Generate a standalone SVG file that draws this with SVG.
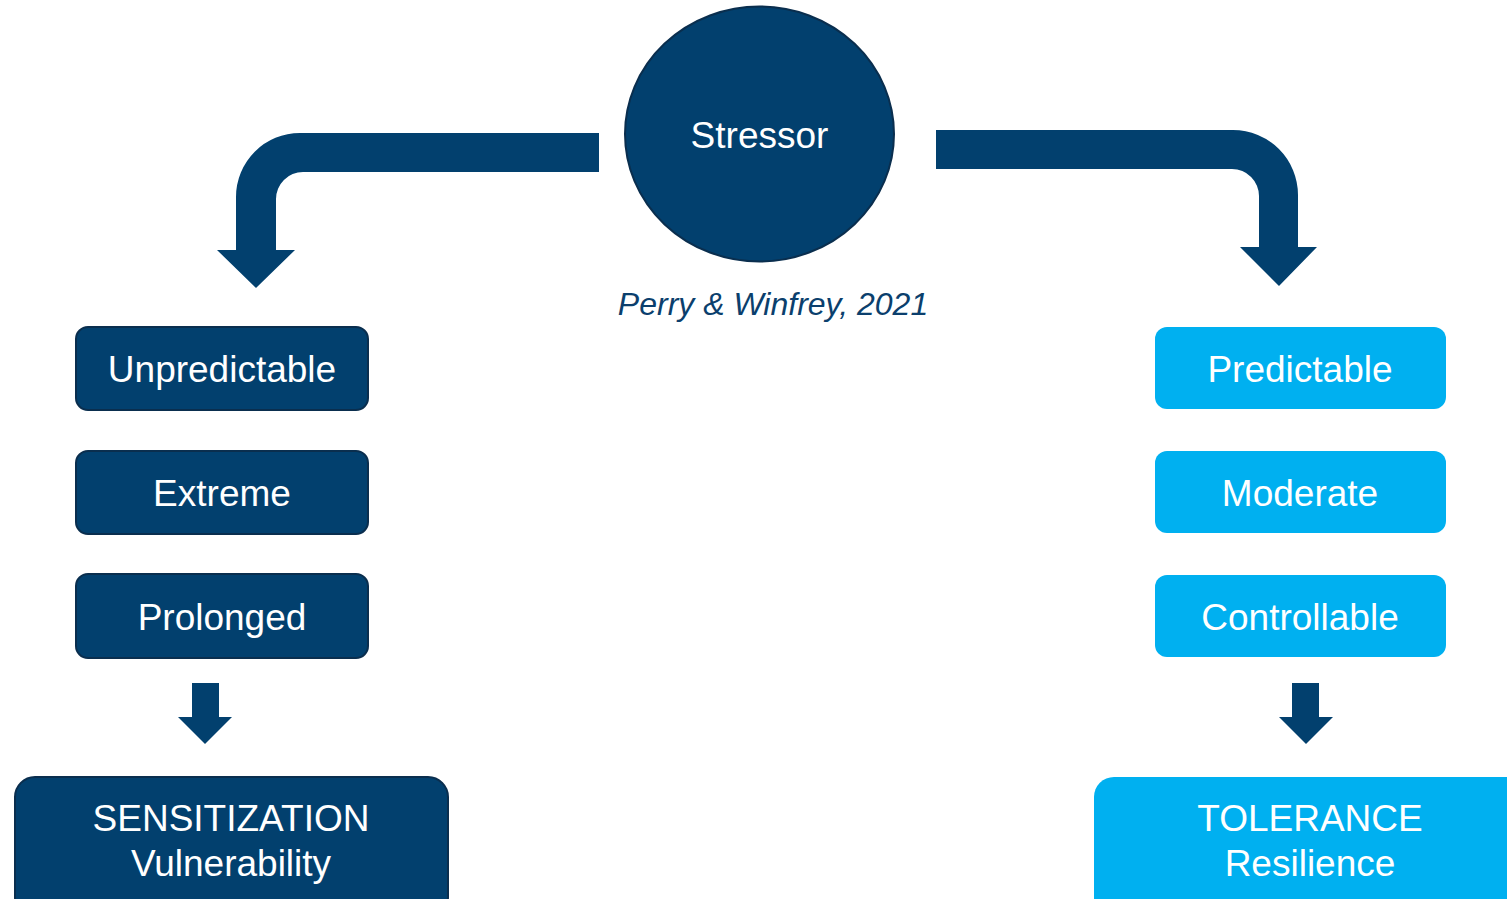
<svg xmlns="http://www.w3.org/2000/svg" width="1507" height="899" viewBox="0 0 1507 899">
<style>
.dk{fill:#02406E;stroke:#0A2E4E;stroke-width:2}
.lt{fill:#00B0F0}
.arr{fill:#02406E}
.t{font-family:"Liberation Sans",Arial,sans-serif;font-size:37px;fill:#FFFFFF;text-anchor:middle}
.cap{font-family:"Liberation Sans",Arial,sans-serif;font-size:32px;font-style:italic;fill:#0B3F6D;text-anchor:middle}
</style>
<rect width="1507" height="899" fill="#FFFFFF"/>
<g id="connectors">
<path class="arr" d="M599,133 L300,133 A64,64 0 0 0 236,197 L236,250 L217,250 L256,288 L295,250 L276,250 L276,199 A27,27 0 0 1 303,172 L599,172 Z"/>
<path class="arr" d="M936,130 L1233,130 A65,65 0 0 1 1298,195 L1298,247 L1317,247 L1279,286 L1240,247 L1259,247 L1259,196 A27,27 0 0 0 1232,169 L936,169 Z"/>
<path class="arr" d="M192,683 L219,683 L219,717 L232,717 L205,744 L178,717 L192,717 Z"/>
<path class="arr" d="M1292,683 L1319,683 L1319,717 L1333,717 L1306,744 L1279,717 L1292,717 Z"/>
</g>
<g id="stressor">
<ellipse class="dk" cx="759.5" cy="134" rx="134.5" ry="127.5"/>
<text class="t" x="759.5" y="148">Stressor</text>
</g>
<g id="citation">
<text class="cap" x="773" y="315">Perry &amp; Winfrey, 2021</text>
</g>
<g id="unpredictable">
<rect class="dk" x="76" y="327" width="292" height="83" rx="12"/>
<text class="t" x="222" y="382">Unpredictable</text>
</g>
<g id="extreme">
<rect class="dk" x="76" y="451" width="292" height="83" rx="12"/>
<text class="t" x="222" y="506">Extreme</text>
</g>
<g id="prolonged">
<rect class="dk" x="76" y="574" width="292" height="84" rx="12"/>
<text class="t" x="222" y="630">Prolonged</text>
</g>
<g id="sensitization">
<rect class="dk" x="15" y="777" width="433" height="140" rx="20"/>
<text class="t" x="231" y="831">SENSITIZATION</text>
<text class="t" x="231" y="876">Vulnerability</text>
</g>
<g id="predictable">
<rect class="lt" x="1155" y="327" width="291" height="82" rx="12"/>
<text class="t" x="1300" y="382">Predictable</text>
</g>
<g id="moderate">
<rect class="lt" x="1155" y="451" width="291" height="82" rx="12"/>
<text class="t" x="1300" y="506">Moderate</text>
</g>
<g id="controllable">
<rect class="lt" x="1155" y="575" width="291" height="82" rx="12"/>
<text class="t" x="1300" y="630">Controllable</text>
</g>
<g id="tolerance">
<rect class="lt" x="1094" y="777" width="440" height="140" rx="20"/>
<text class="t" x="1310" y="831">TOLERANCE</text>
<text class="t" x="1310" y="876">Resilience</text>
</g>
</svg>
